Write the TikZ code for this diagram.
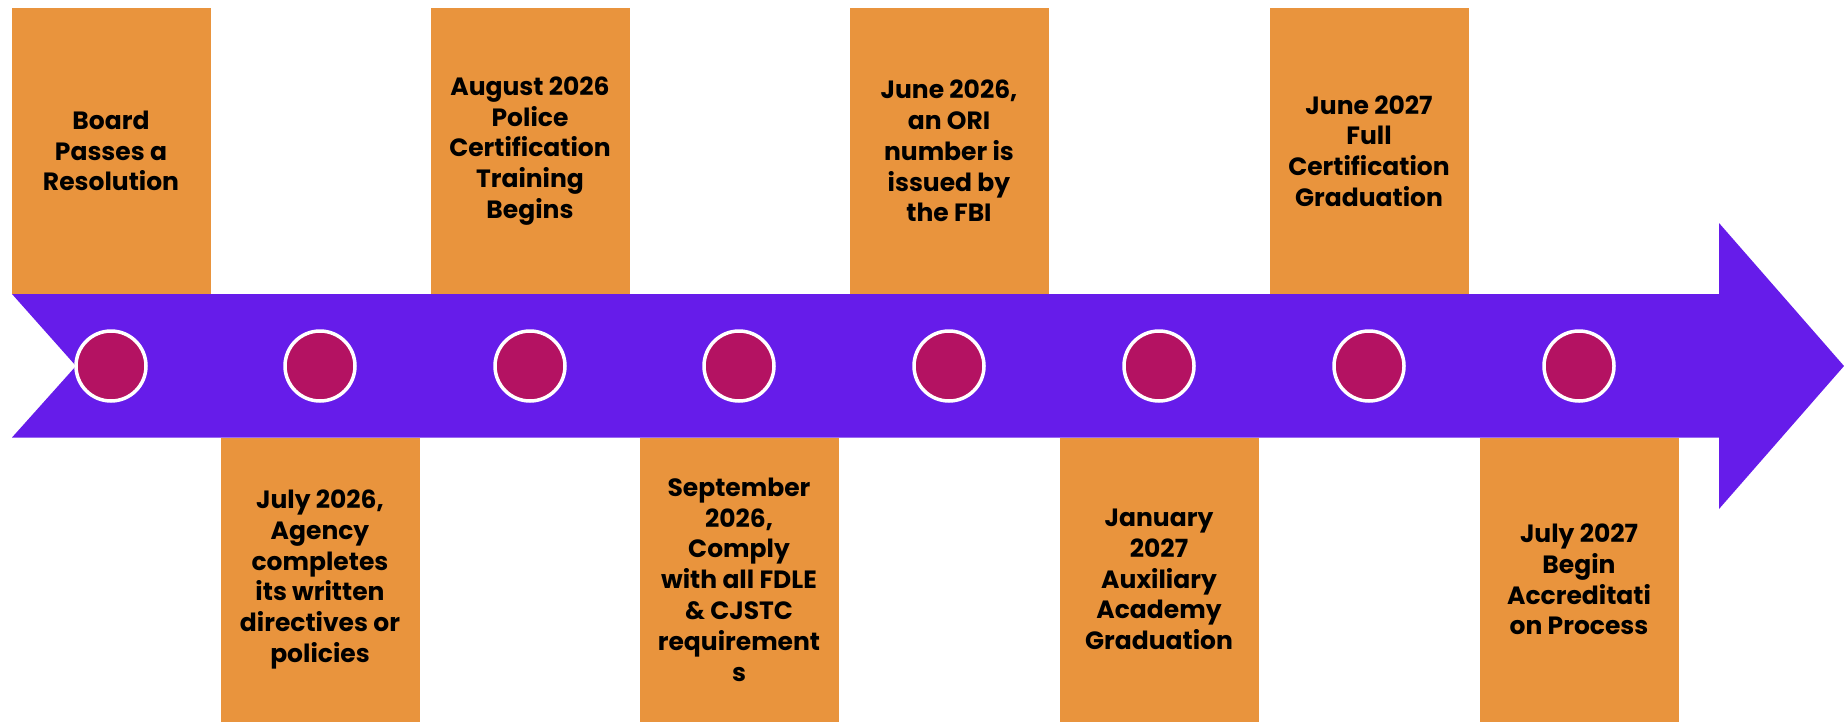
\documentclass[tikz,border=0pt]{standalone}
\usepackage{fontspec}
\setmainfont{Poppins}
\usepackage{tikz}
\usetikzlibrary{positioning}
\definecolor{TLorange}{HTML}{E9943D}
\definecolor{TLpurple}{HTML}{661CEA}
\definecolor{TLberry}{HTML}{B41262}

\begin{document}
\begin{tikzpicture}[x=1pt, y=-1pt,
        event/.style={rectangle, fill=TLorange, inner sep=0pt,
                      minimum width=199pt, minimum height=#1,
                      align=center, font=\fontsize{25}{30.8}\selectfont\bfseries},
        dot/.style={circle, fill=TLberry, draw=white, line width=3.5pt,
                    minimum size=70pt, inner sep=0pt},
      ]
      \useasboundingbox (0,0) rectangle (1844,721);
      % timeline band with notched tail and arrow head
      \fill[TLpurple] (12,294) -- (1719,294) -- (1719,223) -- (1844,366)
        -- (1719,509) -- (1719,437.5) -- (12,437.5) -- (76,366) -- cycle;
      % events above the band
      \node[event=286pt] (e1) at (111,151)
        {Board\\Passes a\\Resolution};
      \node[event=286pt] (e3) at (530,151)
        {August 2026\\Police\\Certification\\Training\\Begins};
      \node[event=286pt] (e5) at (949,151)
        {June 2026,\\an ORI\\number is\\issued by\\the FBI};
      \node[event=286pt] (e7) at (1369,151)
        {June 2027\\Full\\Certification\\Graduation};
      % events below the band
      \node[event=284pt] (e2) at (320,579.5)
        {July 2026,\\Agency\\completes\\its written\\directives or\\policies};
      \node[event=284pt] (e4) at (739,579.5)
        {September\\2026,\\Comply\\with all FDLE\\\& CJSTC\\requirement\\s};
      \node[event=284pt] (e6) at (1159,579.5)
        {January\\2027\\Auxiliary\\Academy\\Graduation};
      \node[event=284pt] (e8) at (1579,579.5)
        {July 2027\\Begin\\Accreditati\\on Process};
      % milestone dots
      \node[dot] (c1) at (111,366) {};
      \node[dot] (c2) at (320,366) {};
      \node[dot] (c3) at (530,366) {};
      \node[dot] (c4) at (739,366) {};
      \node[dot] (c5) at (949,366) {};
      \node[dot] (c6) at (1159,366) {};
      \node[dot] (c7) at (1369,366) {};
      \node[dot] (c8) at (1579,366) {};
    \end{tikzpicture}
\end{document}
